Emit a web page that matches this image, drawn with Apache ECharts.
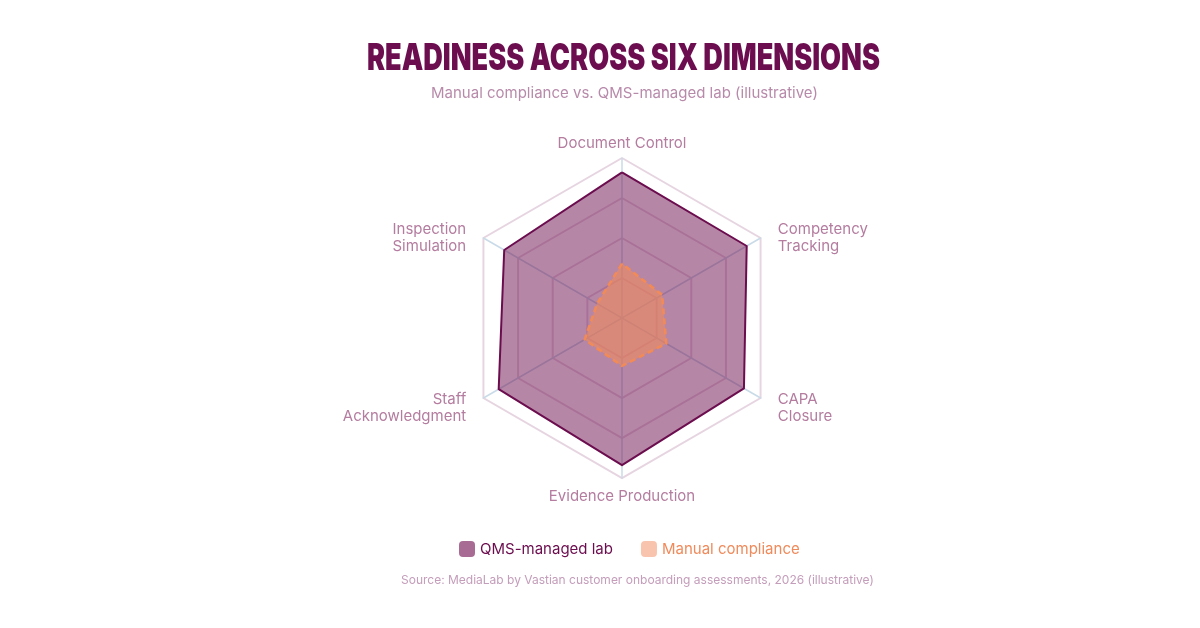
<!DOCTYPE html>
<html>
<head>
<meta charset="utf-8">
<script src="https://cdn.jsdelivr.net/npm/echarts@6/dist/echarts.min.js"></script>
<style>
html,body{margin:0;padding:0;background:#fff;}
#chart{width:1200px;height:628px;}
</style>
</head>
<body>
<div id="chart"></div>
<script>
// Indicators listed counter-clockwise from the top (ECharts radar order)
const dimensions = ['Document Control', 'Inspection\nSimulation', 'Staff\nAcknowledgment', 'Evidence Production', 'CAPA\nClosure', 'Competency\nTracking'];
const seriesNames = ['QMS-managed lab', 'Manual compliance'];
const qmsValues = [91, 85, 89, 92, 88, 90];
const manualValues = [34, 18, 27, 30, 32, 29];
const maxValue = 100;

const titleText = 'READINESS ACROSS SIX DIMENSIONS';
const font = 'Inter, "Noto Sans", sans-serif';
const titleFont = '900 37px Inter, "Noto Sans", sans-serif';

// measure title to fit the condensed width of the original
const cv = document.createElement('canvas').getContext('2d');
cv.font = titleFont;
const titleW = cv.measureText(titleText).width;
const titleScale = 513 / titleW;

const chart = echarts.init(document.getElementById('chart'), null, {renderer: 'canvas'});

chart.setOption({
  backgroundColor: '#ffffff',
  animation: false,
  graphic: [{
    type: 'text',
    x: 623.5, y: 59,
    scaleX: titleScale,
    style: {text: titleText, font: titleFont, fill: '#6b0d4e', textAlign: 'center', textVerticalAlign: 'middle'}
  }],
  title: [
    {
      text: 'Manual compliance vs. QMS-managed lab (illustrative)',
      left: 426, top: 81,
      textStyle: {fontFamily: font, fontWeight: 'normal', fontSize: 15, color: '#b88aaa'}
    },
    {
      text: 'Source: MediaLab by Vastian customer onboarding assessments, 2026 (illustrative)',
      left: 396, top: 569,
      textStyle: {fontFamily: font, fontWeight: 'normal', fontSize: 12, color: '#c49dba'}
    }
  ],
  legend: {
    top: 536, left: 454,
    icon: 'roundRect', itemWidth: 16, itemHeight: 16, itemGap: 28,
    textStyle: {fontFamily: font, fontSize: 15},
    data: [
      {name: seriesNames[0], itemStyle: {color: '#a86b94', borderWidth: 0}, textStyle: {color: '#6b0d4e'}},
      {name: seriesNames[1], itemStyle: {color: '#f9c4ad', borderWidth: 0}, textStyle: {color: '#f08a5a'}}
    ]
  },
  radar: {
    center: [622, 318],
    radius: 160,
    startAngle: 90,
    splitNumber: 4,
    shape: 'polygon',
    indicator: dimensions.map(d => ({name: d, max: maxValue, min: 0})),
    axisName: {
      fontFamily: font, fontSize: 15, color: '#b47c9f', lineHeight: 17,
      padding: [0, 9, -3.5, 9],
      formatter: function (name) {
        const lines = name.split('\n').map(s => '{n|' + s + '}');
        return (lines.length > 1 ? '{sp| }\n' : '') + lines.join('\n');
      },
      rich: {
        n: {fontFamily: font, fontSize: 15, color: '#b47c9f', lineHeight: 17},
        sp: {fontSize: 1, lineHeight: 6}
      }
    },
    nameGap: 9.5,
    axisLine: {lineStyle: {color: '#c9dbe8', width: 1.5}},
    splitLine: {lineStyle: {color: '#e6d5e0', width: 2}},
    splitArea: {show: false}
  },
  series: [{
    type: 'radar',
    symbol: 'none',
    data: [
      {
        name: seriesNames[0], value: qmsValues,
        lineStyle: {color: '#6b0d4e', width: 2},
        areaStyle: {color: '#6b0d4e', opacity: 0.5},
        itemStyle: {color: '#6b0d4e'}
      },
      {
        name: seriesNames[1], value: manualValues,
        lineStyle: {color: '#f28a55', width: 2.5, type: [6, 4], cap: 'butt'},
        areaStyle: {color: '#f28c5c', opacity: 0.6},
        itemStyle: {color: '#f08a5a'}
      }
    ]
  }]
});
</script>
</body>
</html>
